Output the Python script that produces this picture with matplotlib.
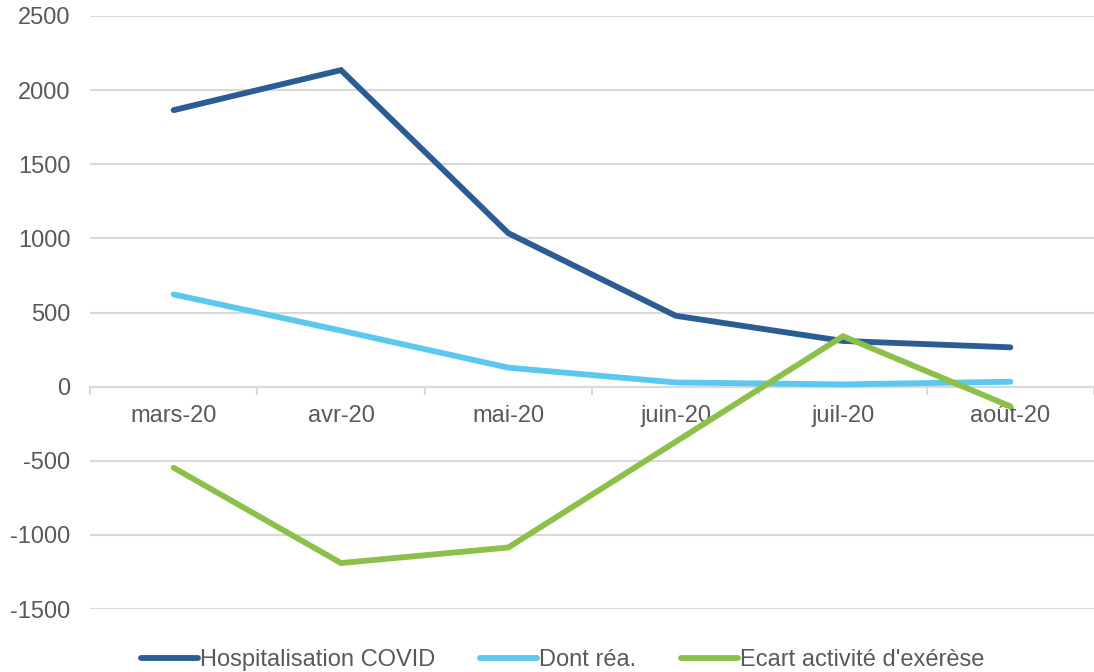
import matplotlib
matplotlib.use('Agg')
import matplotlib.pyplot as plt
import numpy as np

plt.rcParams['font.family'] = ['Liberation Sans', 'DejaVu Sans']
plt.rcParams['axes.unicode_minus'] = False

mois = ['mars-20', 'avr-20', 'mai-20', 'juin-20', 'juil-20', 'août-20']
hospitalisation = [1865, 2135, 1035, 478, 308, 265]
dont_rea = [622, 378, 128, 28, 15, 33]
ecart_exerese = [-547, -1190, -1085, -372, 340, -133]

fig = plt.figure(figsize=(10.94, 6.72), dpi=100)
ax = fig.add_axes([90/1094, 1 - 609/672, 1004/1094, (609 - 16)/672])

x = np.arange(len(mois))
lw = 4.2
ax.plot(x, hospitalisation, color='#2B5C94', lw=lw, solid_capstyle='round',
        solid_joinstyle='miter', label='Hospitalisation COVID', zorder=4)
ax.plot(x, dont_rea, color='#5BC8EE', lw=lw, solid_capstyle='round',
        solid_joinstyle='miter', label='Dont réa.', zorder=3)
ax.plot(x, ecart_exerese, color='#8DC04A', lw=lw, solid_capstyle='round',
        solid_joinstyle='miter', label="Ecart activité d'exérèse", zorder=5)

ax.set_ylim(-1500, 2500)
ax.set_yticks(np.arange(-1500, 2501, 500))
ax.set_xlim(-0.5, 5.5 - 4/168)
ax.yaxis.grid(True, color='#D9D9D9', lw=1.5)
ax.set_axisbelow(True)

for s in ['top', 'right', 'left']:
    ax.spines[s].set_visible(False)
ax.spines['bottom'].set_position(('data', 0))
ax.spines['bottom'].set_color('#D9D9D9')
ax.spines['bottom'].set_linewidth(1.5)

# category boundaries as major ticks, labels on minor ticks at centers
ax.set_xticks(np.arange(-0.5, 6, 1))
ax.set_xticklabels([])
ax.set_xticks(x, minor=True)
ax.set_xticklabels(mois, minor=True)
ax.tick_params(axis='x', which='major', length=6, width=1.5, color='#D9D9D9',
               direction='out')
ax.tick_params(axis='x', which='minor', length=0, pad=13, labelsize=17,
               labelcolor='#595959')
ax.tick_params(axis='y', length=0, pad=14, labelsize=17, labelcolor='#595959')

leg = ax.legend(loc='center', bbox_to_anchor=(0.5 + 16/1094, 1 - 660/672),
                bbox_transform=fig.transFigure,
                ncol=3, frameon=False, fontsize=17, handlelength=2.4,
                handletextpad=0.1, columnspacing=1.9, borderpad=0)
for t in leg.get_texts():
    t.set_color('#595959')

plt.savefig('out.png', dpi=100)
plt.close(fig)
